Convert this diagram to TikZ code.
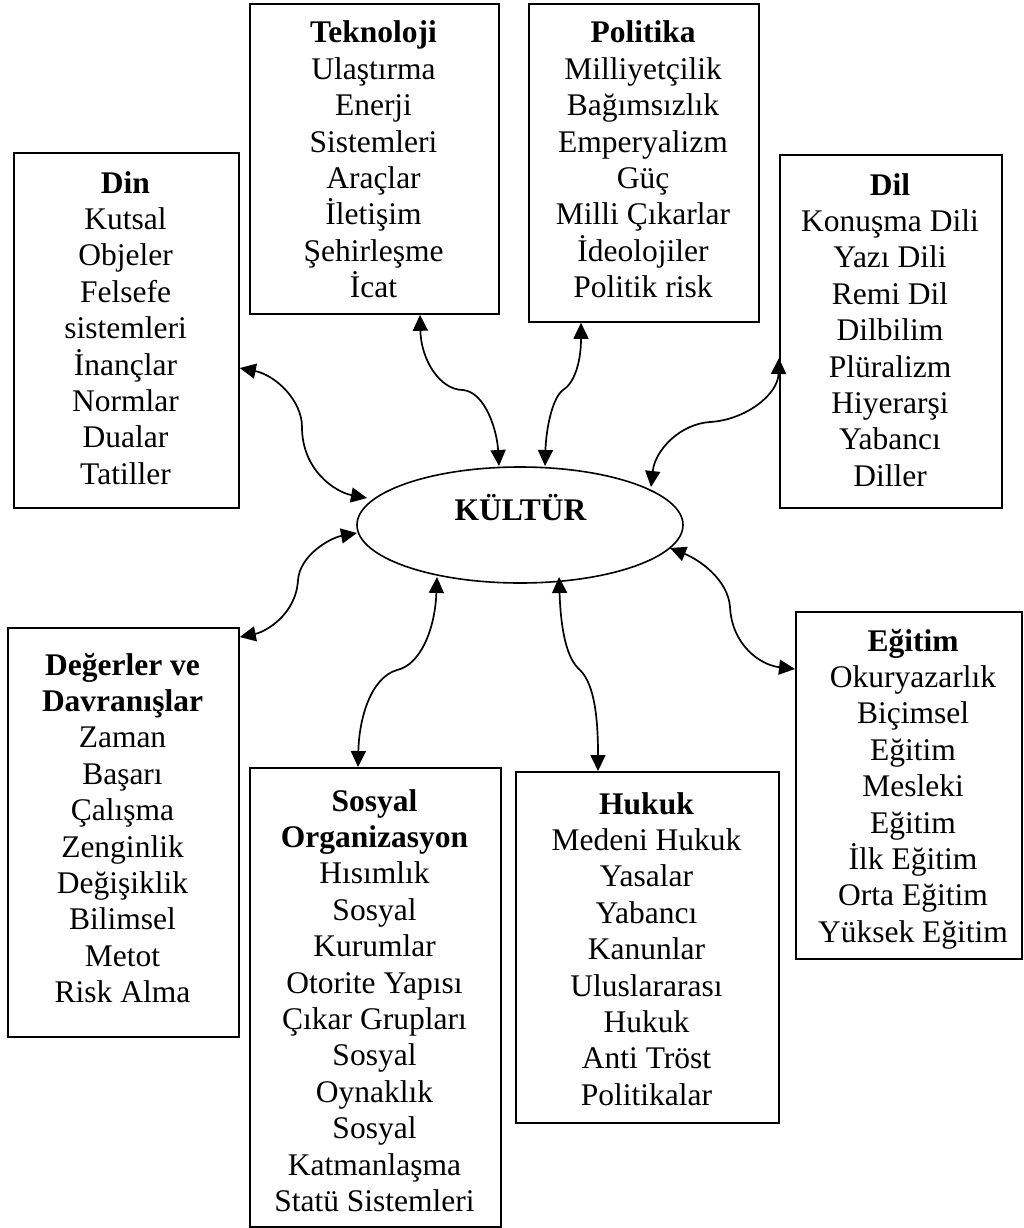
\documentclass[tikz,border=0pt]{standalone}
\usepackage{fontspec}
\setmainfont{Liberation Serif}
\usetikzlibrary{arrows.meta,shapes.geometric,calc}
\newcommand\stacklines[1]{\parbox[t]{320pt}{\centering #1}}
\begin{document}
\begin{tikzpicture}[x=1pt,y=-1pt,
  box/.style={draw, line width=1.8pt, rectangle, inner sep=0pt, anchor=north west},
  boxtext/.style={anchor=base, inner sep=0pt, font=\fontsize{31.5}{36.4}\selectfont},
  link/.style={line width=1.7pt, {Triangle[length=16pt,width=15pt]}-{Triangle[length=16pt,width=15pt]}}
]
% page
\fill[white] (0,0) rectangle (1024,1228);
\useasboundingbox (0,0) rectangle (1024,1228);

% centre ellipse
\node[draw, ellipse, line width=1.6pt, minimum width=326, minimum height=116, inner sep=0pt] (kultur) at (520,525) {};
\node[boxtext, font=\fontsize{31.5}{36.4}\selectfont\bfseries] (kulturtext) at (520.5,520) {KÜLTÜR};

% frames
\node[box, minimum width=249, minimum height=310] (tek) at (249,3) {};
\node[box, minimum width=230, minimum height=318] (pol) at (528,3) {};
\node[box, minimum width=225, minimum height=355] (din) at (13,152) {};
\node[box, minimum width=222, minimum height=353] (dil) at (779,154) {};
\node[box, minimum width=231, minimum height=409] (deg) at (7,627) {};
\node[box, minimum width=251, minimum height=459] (sos) at (249,767) {};
\node[box, minimum width=263, minimum height=351] (huk) at (515,771) {};
\node[box, minimum width=226, minimum height=347] (egi) at (795,611) {};

% frame contents
\node[boxtext] (tektext) at (373.5,43) {\stacklines{\textbf{Teknoloji}\\Ulaştırma\\Enerji\\Sistemleri\\Araçlar\\İletişim\\Şehirleşme\\İcat}};
\node[boxtext] (poltext) at (643,43) {\stacklines{\textbf{Politika}\\Milliyetçilik\\Bağımsızlık\\Emperyalizm\\Güç\\Milli Çıkarlar\\İdeolojiler\\Politik risk}};
\node[boxtext] (dintext) at (125.5,193) {\stacklines{\textbf{Din}\\Kutsal\\Objeler\\Felsefe\\sistemleri\\İnançlar\\Normlar\\Dualar\\Tatiller}};
\node[boxtext] (diltext) at (890,195) {\stacklines{\textbf{Dil}\\Konuşma Dili\\Yazı Dili\\Remi Dil\\Dilbilim\\Plüralizm\\Hiyerarşi\\Yabancı\\Diller}};
\node[boxtext] (degtext) at (122.5,675) {\stacklines{\textbf{Değerler ve}\\\textbf{Davranışlar}\\Zaman\\Başarı\\Çalışma\\Zenginlik\\Değişiklik\\Bilimsel\\Metot\\Risk Alma}};
\node[boxtext] (sostext) at (374.5,811) {\stacklines{\textbf{Sosyal}\\\textbf{Organizasyon}\\Hısımlık\\Sosyal\\Kurumlar\\Otorite Yapısı\\Çıkar Grupları\\Sosyal\\Oynaklık\\Sosyal\\Katmanlaşma\\Statü Sistemleri}};
\node[boxtext] (huktext) at (646.5,814) {\stacklines{\textbf{Hukuk}\\Medeni Hukuk\\Yasalar\\Yabancı\\Kanunlar\\Uluslararası\\Hukuk\\Anti Tröst\\Politikalar}};
\node[boxtext] (egitext) at (913,651) {\stacklines{\textbf{Eğitim}\\Okuryazarlık\\Biçimsel\\Eğitim\\Mesleki\\Eğitim\\İlk Eğitim\\Orta Eğitim\\Yüksek Eğitim}};

% two-headed links
\draw[link] ($(tek.south west)+(171,0)$) .. controls (421,360) and (440,390) .. (463,390)
  .. controls (485,392) and (497,430) .. ($(kultur.center)+(-21,-59)$);
\draw[link] ($(pol.south west)+(53,0)$) .. controls (581,365) and (573,384) .. (563,390)
  .. controls (552,398) and (546,430) .. ($(kultur.center)+(25,-59)$);
\draw[link] ($(din.north east)+(0,216)$) .. controls (275,375) and (302,400) .. (302,427)
  .. controls (302,470) and (335,492) .. ($(kultur.center)+(-153,-27)$);
\draw[link] ($(kultur.center)+(131,-38)$) .. controls (655,450) and (680,424) .. (710,422)
  .. controls (745,420) and (778,395) .. ($(dil.north west)+(0,204)$);
\draw[link] ($(kultur.center)+(-163,8)$) .. controls (330,538) and (300,555) .. (298,580)
  .. controls (296,615) and (265,632) .. ($(deg.north east)+(0,10)$);
\draw[link] ($(kultur.center)+(-83,52)$) .. controls (435,630) and (420,665) .. (397,670)
  .. controls (370,678) and (359,720) .. ($(sos.north west)+(109,0)$);
\draw[link] ($(kultur.center)+(39,52)$) .. controls (561,635) and (568,660) .. (580,670)
  .. controls (595,685) and (598,720) .. ($(huk.north west)+(83,0)$);
\draw[link] ($(kultur.center)+(150,23)$) .. controls (700,560) and (728,580) .. (730,607)
  .. controls (732,645) and (760,665) .. ($(egi.north west)+(0,58)$);
\end{tikzpicture}
\end{document}
